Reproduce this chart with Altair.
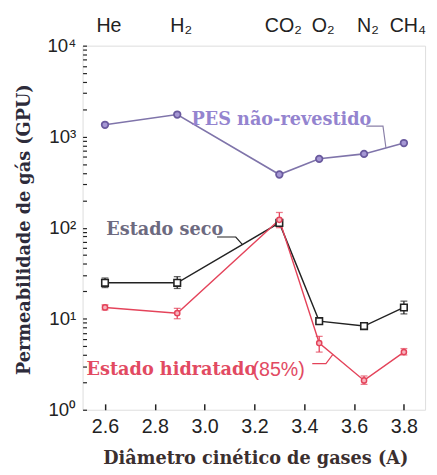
import altair as alt
import pandas as pd

# ---- data ----
gas_names = ["He", "H₂", "CO₂", "O₂", "N₂", "CH₄"]
diameters = [2.6, 2.89, 3.3, 3.46, 3.64, 3.8]

pes_uncoated = [1350, 1750, 384, 571, 647, 851]

dry = [24.8, 24.8, 113, 9.4, 8.3, 13.3]
dry_low = [22.0, 21.5, 105, 9.0, 7.9, 11.3]
dry_high = [28.0, 29.0, 120, 9.8, 8.7, 15.6]

hydrated = [13.3, 11.5, 122, 5.4, 2.1, 4.3]
hyd_low = [12.5, 10.0, 100, 4.3, 1.9, 4.0]
hyd_high = [14.2, 13.0, 147, 6.4, 2.35, 4.7]

x_ticks = [2.6, 2.8, 3.0, 3.2, 3.4, 3.6, 3.8]
y_major = [1, 10, 100, 1000, 10000]
y_minor = [m * 10 ** e for e in range(4) for m in range(1, 10)] + [10000]

# annotation anchors (data coordinates)
ann_text = ["PES não-revestido", "Estado seco", "Estado hidratado", "(85%)"]
ann_x = [2.947, 2.605, 2.526, 3.192]
ann_y = [1517, 94, 2.70, 2.70]

pes_leader_x = [3.649, 3.716, 3.728]
pes_leader_y = [1306, 1306, 751]
dry_leader_x = [3.05, 3.125, 3.152]
dry_leader_y = [79, 79, 65]
hyd_leader_x = [3.432, 3.487, 3.515]
hyd_leader_y = [3.21, 3.21, 4.05]

W, H = 349, 371

PURPLE_LINE = "#7f74aa"
PURPLE_PT = "#6a5a9e"
PURPLE_TXT = "#9484cf"
RED = "#e4435a"
BLACK = "#222222"
SERIF = "DejaVu Serif"

df_pes = pd.DataFrame({"x": diameters, "y": pes_uncoated, "o": range(6)})
df_dry = pd.DataFrame({"x": diameters, "y": dry, "lo": dry_low, "hi": dry_high, "o": range(6)})
df_hyd = pd.DataFrame({"x": diameters, "y": hydrated, "lo": hyd_low, "hi": hyd_high, "o": range(6)})
df_gas = pd.DataFrame({"x": diameters, "g": gas_names})
df_ann = pd.DataFrame({"x": ann_x, "y": ann_y, "t": ann_text})


def leader_df(xs, ys):
    return pd.DataFrame({"x": xs, "y": ys, "o": range(len(xs))})


xs = alt.Scale(domain=[2.51, 3.885], nice=False, zero=False)
ys = alt.Scale(type="log", domain=[1, 10000], nice=False)

main_x_axis = alt.Axis(
    orient="bottom", values=x_ticks, format=".1f", tickSize=0, domain=False, grid=False,
    labelFont="Liberation Sans", labelFontSize=20, labelColor=BLACK, labelPadding=7,
    title="Diâmetro cinético de gases (A)", titleFont=SERIF, titleFontSize=18,
    titleFontWeight="bold", titleColor="#3b2f2f", titleX=176, titleY=50,
    titleBaseline="middle", titleAlign="center",
)
main_y_axis = alt.Axis(
    orient="left", values=y_major,
    labelExpr="'10' + ['⁰','¹','²','³','⁴'][round(log(datum.value)/LN10)]",
    tickSize=0, domain=False, grid=False,
    labelFont="Liberation Sans", labelFontSize=19, labelColor=BLACK, labelPadding=7,
    title="Permeabilidade de gás (GPU)", titleFont=SERIF, titleFontSize=18,
    titleFontWeight="bold", titleColor="#2d2b3a", titleX=-59, titleY=187, titleAngle=270,
    titleBaseline="middle", titleAlign="center",
)
tick_x_axis = alt.Axis(
    orient="top", offset=-H, values=x_ticks, labels=False, domain=False, grid=False,
    tickSize=6, tickWidth=1.5, tickColor=BLACK, title=None,
)
tick_y_axis = alt.Axis(
    orient="right", offset=-W, values=y_minor, labels=False, domain=False, grid=False,
    tickSize=4, tickWidth=1.2, tickColor=BLACK, title=None,
)

pes_line = alt.Chart(df_pes).mark_line(color=PURPLE_LINE, strokeWidth=1.6).encode(
    x=alt.X("x:Q", scale=xs, axis=main_x_axis),
    y=alt.Y("y:Q", scale=ys, axis=main_y_axis),
    order="o:O",
)
dry_line = alt.Chart(df_dry).mark_line(color=BLACK, strokeWidth=1.5).encode(
    x=alt.X("x:Q", scale=xs, axis=tick_x_axis),
    y=alt.Y("y:Q", scale=ys, axis=tick_y_axis),
    order="o:O",
)


def X():
    return alt.X("x:Q", scale=xs, axis=None)


def Y(f="y"):
    return alt.Y(f"{f}:Q", scale=ys, axis=None)


hyd_line = alt.Chart(df_hyd).mark_line(color=RED, strokeWidth=1.4).encode(
    x=X(), y=Y(), order="o:O"
)

dry_err = alt.Chart(df_dry).mark_rule(color=BLACK, strokeWidth=1.3).encode(
    x=X(), y=Y("lo"), y2="hi:Q"
)
dry_cap_lo = alt.Chart(df_dry).mark_tick(color=BLACK, size=7, thickness=1.3, orient="horizontal").encode(x=X(), y=Y("lo"))
dry_cap_hi = alt.Chart(df_dry).mark_tick(color=BLACK, size=7, thickness=1.3, orient="horizontal").encode(x=X(), y=Y("hi"))

hyd_err = alt.Chart(df_hyd).mark_rule(color=RED, strokeWidth=1.3).encode(
    x=X(), y=Y("lo"), y2="hi:Q"
)
hyd_cap_lo = alt.Chart(df_hyd).mark_tick(color=RED, size=7, thickness=1.3, orient="horizontal").encode(x=X(), y=Y("lo"))
hyd_cap_hi = alt.Chart(df_hyd).mark_tick(color=RED, size=7, thickness=1.3, orient="horizontal").encode(x=X(), y=Y("hi"))

pes_pts = alt.Chart(df_pes).mark_point(
    shape="circle", size=45, fill="#a597d4", stroke=PURPLE_PT, strokeWidth=1.8, opacity=1, filled=False
).encode(x=X(), y=Y())
dry_pts = alt.Chart(df_dry).mark_point(
    shape="square", size=45, fill="white", stroke=BLACK, strokeWidth=1.6, opacity=1, filled=False
).encode(x=X(), y=Y())
hyd_pts = alt.Chart(df_hyd).mark_point(
    shape="circle", size=28, fill="#f7b3bd", stroke=RED, strokeWidth=1.5, opacity=1, filled=False
).encode(x=X(), y=Y())

gas_lbl = alt.Chart(df_gas).mark_text(
    font="Liberation Sans", fontSize=20, color=BLACK, dx=4, baseline="middle", align="center"
).encode(x=X(), y=alt.value(-20), text="g:N")


def ann(i, color, font, weight, size):
    return alt.Chart(df_ann.iloc[[i]]).mark_text(
        font=font, fontSize=size, fontWeight=weight, color=color, align="left", baseline="middle"
    ).encode(x=X(), y=Y(), text="t:N")


ann_pes = ann(0, PURPLE_TXT, SERIF, "bold", 18)
ann_dry = ann(1, "#6d6a80", SERIF, "bold", 18)
ann_hyd = ann(2, "#e24a62", SERIF, "bold", 18)
ann_pct = ann(3, "#e24a62", "Liberation Sans", "normal", 20)

lead_pes = alt.Chart(leader_df(pes_leader_x, pes_leader_y)).mark_line(color="#8a80a8", strokeWidth=1.2).encode(x=X(), y=Y(), order="o:O")
lead_dry = alt.Chart(leader_df(dry_leader_x, dry_leader_y)).mark_line(color=BLACK, strokeWidth=1.2).encode(x=X(), y=Y(), order="o:O")
lead_hyd = alt.Chart(leader_df(hyd_leader_x, hyd_leader_y)).mark_line(color=RED, strokeWidth=1.2).encode(x=X(), y=Y(), order="o:O")

chart = alt.layer(
    pes_line, dry_line, hyd_line,
    lead_pes, lead_dry, lead_hyd,
    dry_err, dry_cap_lo, dry_cap_hi,
    hyd_err, hyd_cap_lo, hyd_cap_hi,
    pes_pts, dry_pts, hyd_pts,
    gas_lbl, ann_pes, ann_dry, ann_hyd, ann_pct,
).resolve_axis(x="independent", y="independent").properties(
    width=W, height=H,
    autosize=alt.AutoSizeParams(type="none"),
    padding={"left": 76, "top": 34, "right": 4, "bottom": 56},
).configure_view(stroke=BLACK, strokeWidth=1.6).configure(background="white")

chart.save("out.html", embed_options={"renderer": "svg", "actions": False})
